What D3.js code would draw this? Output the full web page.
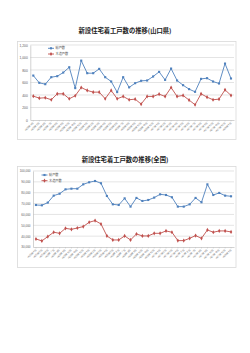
<!DOCTYPE html>
<html><head><meta charset="utf-8">
<script src="https://cdn.jsdelivr.net/npm/d3@7"></script>
<style>
html,body{margin:0;padding:0;background:#fff;}
svg{display:block;font-family:"Noto Sans CJK JP","Noto Sans",sans-serif;}
</style></head>
<body>
<svg id="c" width="250" height="353"></svg>
<script>
// ---- data ----
const months = (function(){
  const out = [];
  let y = 25, m = 4;
  for (let i = 0; i < 34; i++) { out.push("H" + y + "年" + m + "月"); m++; if (m > 12) { m = 1; y++; } }
  return out;
})();
const seriesNames = ["総戸数", "木造戸数"];
const yamaguchiTotal = [711,595,573,685,701,759,844,510,950,749,749,818,685,616,446,685,522,589,627,632,696,770,642,823,632,557,494,451,658,669,616,584,903,664];
const yamaguchiWood  = [382,350,356,324,419,419,340,388,520,473,446,446,340,473,340,377,324,334,255,377,377,414,377,520,377,393,319,244,419,366,324,334,483,393];
const zenkokuTotal = [68700,68400,70900,77300,79100,83100,83700,83700,87700,89600,90800,88700,77000,69300,68700,74800,67200,75200,72400,73300,75500,78500,77900,75800,67200,67200,69300,75200,71200,87700,77900,79800,77300,76700];
const zenkokuWood  = [37400,35600,39600,43600,42600,47200,46300,47500,48800,52800,54300,51200,40200,36500,36500,40200,36500,42000,40200,40200,42600,42600,44800,43600,35900,35900,38000,40500,38000,45700,43600,44800,44800,43900];
const yTicksTop = [0,200,400,600,800,1000,1200];
const yTicksBottom = [30000,40000,50000,60000,70000,80000,90000,100000];

const svg = d3.select("#c");
const BLUE = "#4F81BD", RED = "#C0504D", GRID = "#D9D9D9", TXT = "#595959";

function chart(o){
  const g = svg.append("g");
  svg.append("text").attr("x",125).attr("y",o.titleY).attr("text-anchor","middle")
    .attr("dominant-baseline","middle").attr("font-size",6.3).attr("font-weight","bold")
    .attr("fill","#222").text(o.title);
  g.append("rect").attr("x",17.5).attr("y",o.boxTop+0.5).attr("width",218.5).attr("height",o.boxBottom-o.boxTop)
    .attr("fill","#fff").attr("stroke",GRID).attr("stroke-width",0.8);
  const x = d3.scaleBand().domain(months).range([o.left,234]).padding(0);
  const y = d3.scaleLinear().domain(o.domain).range([o.bottom,o.top]);
  // grid
  g.append("g").selectAll("line").data(o.ticks.slice(1)).join("line")
    .attr("x1",o.left).attr("x2",234).attr("y1",d=>y(d)).attr("y2",d=>y(d))
    .attr("stroke",GRID).attr("stroke-width",0.7);
  // y axis
  const ya = d3.axisLeft(y).tickValues(o.ticks).tickSize(0).tickPadding(2.5).tickFormat(d3.format(","));
  const yg = g.append("g").attr("transform",`translate(${o.left},0)`).call(ya);
  yg.select(".domain").attr("stroke","#BFBFBF").attr("stroke-width",0.7);
  yg.selectAll("text").attr("font-size",o.yfs).attr("fill",TXT).attr("font-family","Liberation Sans, Arial, sans-serif");
  // x axis
  const xa = d3.axisBottom(x).tickSize(1.5).tickSizeOuter(0);
  const xg = g.append("g").attr("transform",`translate(0,${o.bottom})`).call(xa);
  xg.select(".domain").attr("stroke","#BFBFBF").attr("stroke-width",0.7);
  xg.selectAll("line").attr("stroke","#BFBFBF").attr("stroke-width",0.5);
  xg.selectAll("text").attr("font-size",2.6).attr("fill",TXT)
    .attr("text-anchor","end").attr("dy",0).attr("y",0)
    .attr("transform","translate(1,2.5) rotate(-45)");
  // series
  const series = [[o.total,BLUE,"sq"],[o.wood,RED,"dia"]];
  series.forEach(([vals,col,shape])=>{
    const line = d3.line().x((d,i)=>x(months[i])+x.bandwidth()/2).y(d=>y(d));
    g.append("path").datum(vals).attr("d",line).attr("fill","none").attr("stroke",col).attr("stroke-width",0.9);
    const sym = d3.symbol().type(shape==="sq"?d3.symbolSquare:d3.symbolDiamond).size(shape==="sq"?4.5:5);
    g.append("g").selectAll("path").data(vals).join("path")
      .attr("d",sym).attr("fill",col)
      .attr("transform",(d,i)=>`translate(${x(months[i])+x.bandwidth()/2},${y(d)})`);
  });
  // legend
  seriesNames.forEach((n,i)=>{
    const ly = o.legY + i*5.7, col = i?RED:BLUE;
    g.append("line").attr("x1",o.legX).attr("x2",o.legX+6).attr("y1",ly).attr("y2",ly).attr("stroke",col).attr("stroke-width",0.9);
    g.append("path").attr("d",d3.symbol().type(i?d3.symbolDiamond:d3.symbolSquare).size(i?5:4.5)())
      .attr("fill",col).attr("transform",`translate(${o.legX+3},${ly})`);
    g.append("text").attr("x",o.legX+7.5).attr("y",ly).attr("dominant-baseline","middle")
      .attr("font-size",3.2).attr("fill",TXT).text(n);
  });
}

chart({title:"新設住宅着工戸数の推移(山口県)", titleY:31.5, boxTop:41, boxBottom:139,
  left:30.3, top:45, bottom:120, domain:[0,1200], ticks:yTicksTop, yfs:3.3,
  total:yamaguchiTotal, wood:yamaguchiWood, legX:48, legY:48.3});
chart({title:"新設住宅着工戸数の推移(全国)", titleY:160, boxTop:166, boxBottom:267,
  left:33, top:171, bottom:247, domain:[30000,100000], ticks:yTicksBottom, yfs:3,
  total:zenkokuTotal, wood:zenkokuWood, legX:41.5, legY:175});
</script>
</body></html>
